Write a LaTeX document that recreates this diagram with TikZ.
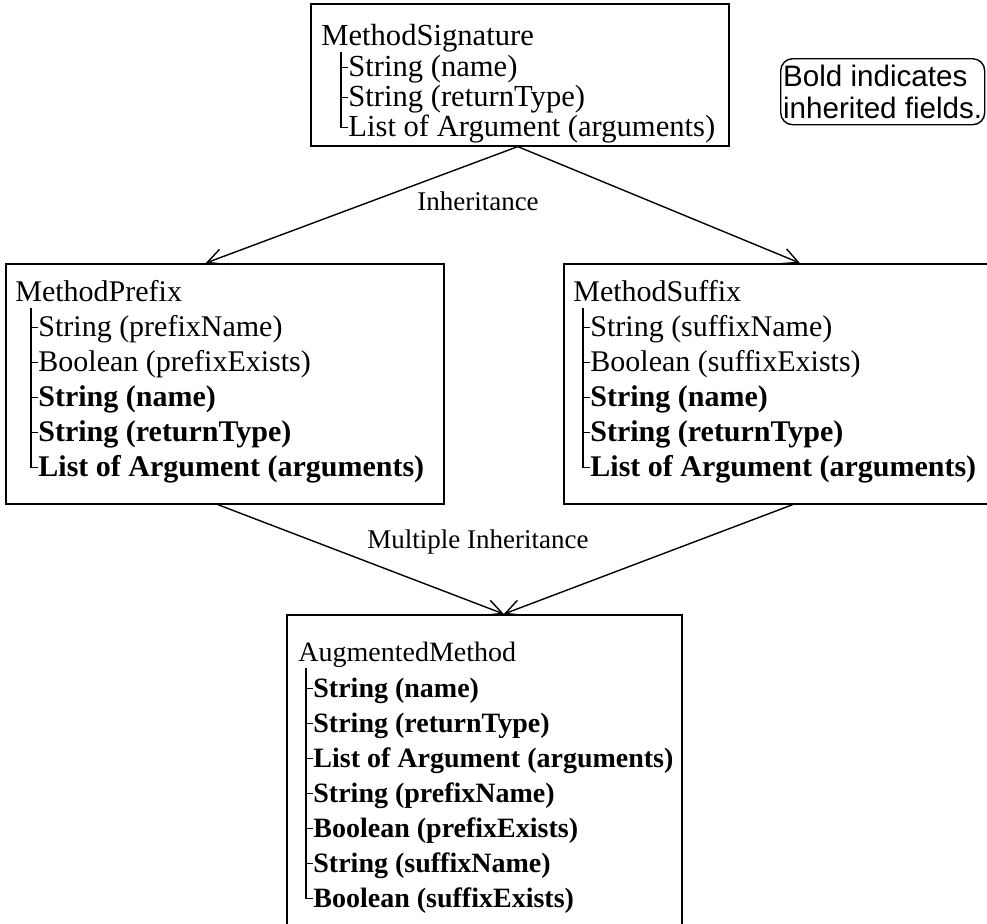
\documentclass[tikz,border=0pt]{standalone}
\usepackage{fontspec}
\setmainfont{Liberation Serif}
\setsansfont{Liberation Sans}
\usetikzlibrary{arrows.meta,calc}
\newcommand\notefont{\sffamily\fontsize{14.8}{16}\selectfont}
% vertical branch line under a class name, with one tick per field
\newcommand\drawbranches[3]{%
  \draw[branch] ($(#1.base west -| #2.base west)+(-7,7)$) -- ($(#2.base west)+(-7,-8.5)$);
  \foreach \f in {#3} \draw[branch] ($(\f.base west)+(-7,-8.5)$) -- ($(\f.base west)+(0,-8.5)$);
}
\begin{document}
\begin{tikzpicture}[x=0.5pt,y=-0.5pt,
  classbox/.style={draw,line width=0.8pt,inner sep=0pt,anchor=north west},
  heading/.style={anchor=base west,inner sep=0pt,font=\fontsize{#1}{18}\selectfont},
  field/.style={anchor=base west,inner sep=0pt,font=\fontsize{#1}{18}\selectfont},
  inherited/.style={anchor=base west,inner sep=0pt,font=\fontsize{#1}{18}\selectfont\bfseries},
  branch/.style={line width=0.6pt},
  inh/.style={line width=0.7pt,-{Straight Barb[length=8pt,width=8pt,line width=0.7pt]}},
  edgelabel/.style={inner sep=0pt,font=\fontsize{13.5}{16}\selectfont},
  note/.style={draw,line width=0.7pt,rounded corners=6pt,anchor=north west,align=left,inner sep=0pt,font=\notefont}]

\useasboundingbox (0,0) rectangle (987,923);
\clip (0,0) rectangle (987,923);

% class boxes
\node[classbox,minimum width=209pt,minimum height=71pt] (sig) at (310,3) {};
\node[classbox,minimum width=219pt,minimum height=120pt] (pre) at (5,263) {};
\node[classbox,minimum width=219pt,minimum height=120pt] (suf) at (563,263) {};
\node[classbox,minimum width=197.5pt,minimum height=160pt] (aug) at (286,614) {};

% MethodSignature
\node[heading=15.3] (sigT) at (321,45) {MethodSignature};
\node[field=15.3] (sig1) at (348,76) {String (name)};
\node[field=15.3] (sig2) at (348,106) {String (returnType)};
\node[field=15.3] (sig3) at (348,136) {List of Argument (arguments)};
\drawbranches{sigT}{sig3}{sig1,sig2,sig3}

% MethodPrefix
\node[heading=15] (preT) at (15,301) {MethodPrefix};
\node[field=15] (pre1) at (38,336) {String (prefixName)};
\node[field=15] (pre2) at (38,371) {Boolean (prefixExists)};
\node[inherited=15] (pre3) at (38,406) {String (name)};
\node[inherited=15] (pre4) at (38,441) {String (returnType)};
\node[inherited=15] (pre5) at (38,476) {List of Argument (arguments)};
\drawbranches{preT}{pre5}{pre1,pre2,pre3,pre4,pre5}

% MethodSuffix
\node[heading=15] (sufT) at (573,301) {MethodSuffix};
\node[field=15] (suf1) at (590,336) {String (suffixName)};
\node[field=15] (suf2) at (590,371) {Boolean (suffixExists)};
\node[inherited=15] (suf3) at (590,406) {String (name)};
\node[inherited=15] (suf4) at (590,441) {String (returnType)};
\node[inherited=15] (suf5) at (590,476) {List of Argument (arguments)};
\drawbranches{sufT}{suf5}{suf1,suf2,suf3,suf4,suf5}

% AugmentedMethod
\node[heading=14] (augT) at (298,661) {AugmentedMethod};
\node[inherited=14] (aug1) at (313,697) {String (name)};
\node[inherited=14] (aug2) at (313,732) {String (returnType)};
\node[inherited=14] (aug3) at (313,767) {List of Argument (arguments)};
\node[inherited=14] (aug4) at (313,802) {String (prefixName)};
\node[inherited=14] (aug5) at (313,837) {Boolean (prefixExists)};
\node[inherited=14] (aug6) at (313,872) {String (suffixName)};
\node[inherited=14] (aug7) at (313,907) {Boolean (suffixExists)};
\drawbranches{augT}{aug7}{aug1,aug2,aug3,aug4,aug5,aug6,aug7}

% legend
\node[note,minimum width=102pt,minimum height=33pt] (note) at (780,58) {Bold indicates\\inherited fields.};

% inheritance connectors
\draw[inh] ([xshift=-1pt]sig.south) -- ([xshift=-9.5pt]pre.north);
\draw[inh] ([xshift=-1pt]sig.south) -- ([xshift=8.5pt]suf.north);
\node[edgelabel] (lab1) at (478,201) {Inheritance};

\draw[inh] ([xshift=-3.5pt]pre.south) -- ([xshift=9.75pt]aug.north);
\draw[inh] ([xshift=5pt]suf.south) -- ([xshift=9.75pt]aug.north);
\node[edgelabel] (lab2) at (478,542) {Multiple Inheritance};
\end{tikzpicture}
\end{document}
